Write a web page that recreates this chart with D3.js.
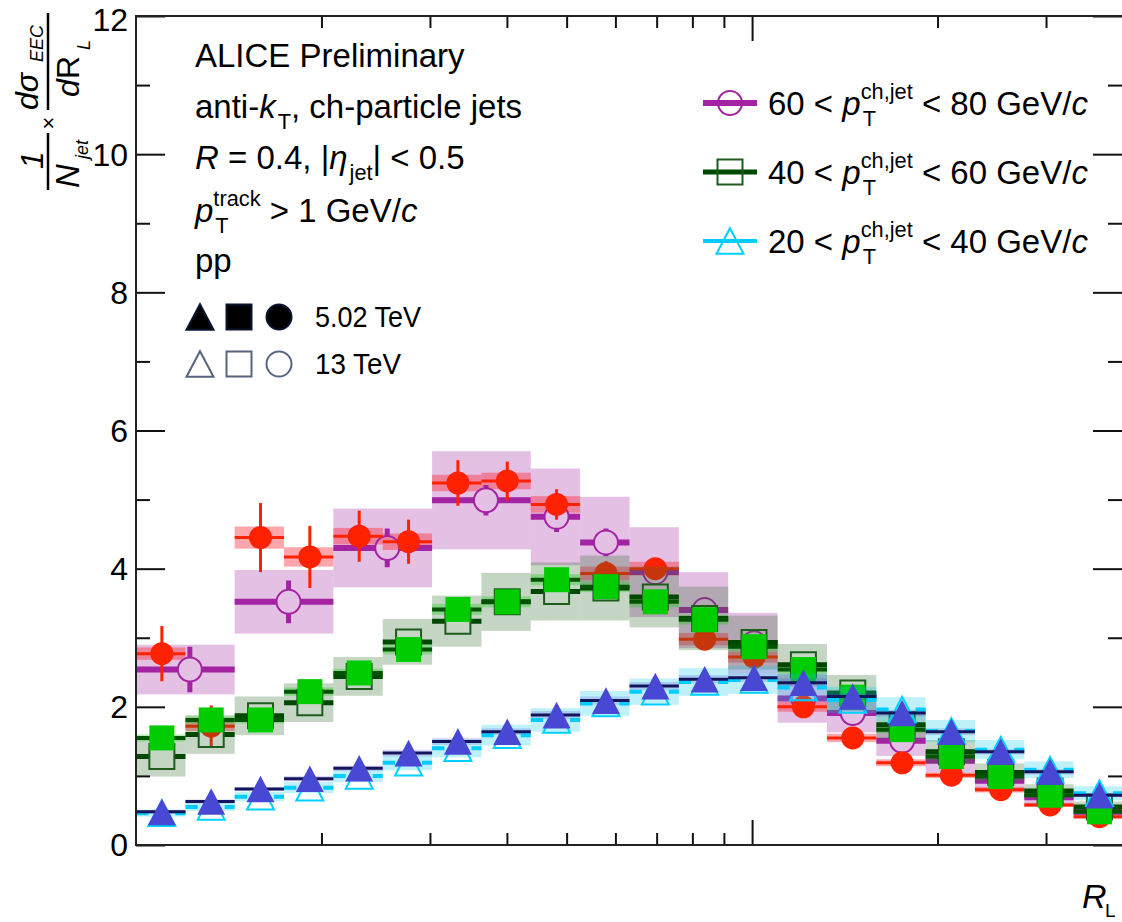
<!DOCTYPE html>
<html>
<head>
<meta charset="utf-8">
<script src="https://cdn.jsdelivr.net/npm/d3@7"></script>
<style>
  body { margin: 0; background: #fff; }
  svg { display: block; font-family: "Liberation Sans", Arial, Helvetica, sans-serif; }
  text { white-space: pre; fill: #000; }
</style>
</head>
<body>
<script>
// svg size and plot frame
const width = 1122,
  height = 922;
const frame = { left: 136, right: 1123, top: 16, bottom: 845 };

// R_L bin edges (log bins 0.01 - 0.4)
const binEdges = [0.01, 0.01203, 0.01446, 0.01739, 0.02091, 0.02515, 0.03024, 0.03637,
  0.04373, 0.05259, 0.06325, 0.07606, 0.09146, 0.11, 0.1323, 0.1591, 0.1913, 0.23,
  0.2766, 0.3326, 0.4];
// 13 TeV 60-80 uses merged bins at small R_L
const binEdgesWide = [0.01, 0.01446, 0.02091, 0.03024, 0.04373, 0.05259, 0.06325,
  0.07606, 0.09146, 0.11, 0.1323, 0.1591, 0.1913, 0.23, 0.2766, 0.3326, 0.4];

// 60 < pT < 80, 13 TeV (open circles)
const pt60_13 = [2.54, 3.52, 4.3, 4.99, 4.75, 4.38, 3.95, 3.4, 2.92, 2.12, 1.91, 1.51, 1.22, 0.93, 0.69, 0.48];
const pt60_13_stat = [0.33, 0.31, 0.28, 0.22, 0.22, 0.2, 0.17, 0.15, 0.12, 0.1, 0.09, 0.08, 0.07, 0.06, 0.05, 0.04];
const pt60_13_sys = [0.36, 0.46, 0.57, 0.71, 0.7, 0.66, 0.65, 0.55, 0.44, 0.35, 0.28, 0.22, 0.17, 0.13, 0.1, 0.07];
// 60 < pT < 80, 5.02 TeV (full circles)
const pt60_5 = [2.77, 1.72, 4.45, 4.17, 4.47, 4.39, 5.24, 5.27, 4.93, 3.93, 4.0, 2.98, 2.72, 2.0, 1.55, 1.19, 1.01, 0.8, 0.58, 0.41];
const pt60_5_stat = [0.4, 0.3, 0.5, 0.45, 0.37, 0.32, 0.33, 0.28, 0.22, 0.18, 0.15, 0.12, 0.1, 0.08, 0.07, 0.06, 0.05, 0.04, 0.04, 0.03];
const pt60_5_sys = [0.09, 0.07, 0.16, 0.14, 0.12, 0.12, 0.12, 0.12, 0.12, 0.1, 0.1, 0.09, 0.08, 0.07, 0.06, 0.05, 0.04, 0.04, 0.03, 0.03];

// 40 < pT < 60, 13 TeV (open squares)
const pt40_13 = [1.28, 1.6, 1.87, 2.06, 2.44, 2.94, 3.24, 3.52, 3.67, 3.72, 3.59, 3.28, 2.93, 2.61, 2.2, 1.74, 1.35, 1.05, 0.78, 0.55];
const pt40_13_sys = [0.29, 0.28, 0.28, 0.28, 0.28, 0.33, 0.37, 0.42, 0.42, 0.47, 0.44, 0.46, 0.39, 0.3, 0.26, 0.2, 0.17, 0.13, 0.1, 0.08];
// 40 < pT < 60, 5.02 TeV (full squares)
const pt40_5 = [1.55, 1.81, 1.81, 2.22, 2.49, 2.83, 3.41, 3.52, 3.84, 3.74, 3.52, 3.26, 2.87, 2.54, 2.14, 1.67, 1.28, 0.99, 0.72, 0.48];
const pt40_5_sys = [0.05, 0.05, 0.05, 0.06, 0.06, 0.07, 0.08, 0.08, 0.08, 0.08, 0.08, 0.07, 0.07, 0.06, 0.05, 0.05, 0.04, 0.04, 0.03, 0.03];

// 20 < pT < 40, 13 TeV (open triangles)
const pt20_13 = [0.46, 0.55, 0.7, 0.83, 1.0, 1.19, 1.4, 1.59, 1.81, 2.05, 2.22, 2.36, 2.39, 2.28, 2.1, 1.96, 1.65, 1.38, 1.09, 0.75];
const pt20_13_sys = [0.05, 0.06, 0.07, 0.08, 0.09, 0.11, 0.13, 0.15, 0.17, 0.18, 0.19, 0.2, 0.2, 0.2, 0.19, 0.18, 0.16, 0.14, 0.12, 0.1];
// 20 < pT < 40, 5.02 TeV (full triangles)
const pt20_5 = [0.48, 0.63, 0.81, 0.96, 1.11, 1.33, 1.5, 1.64, 1.88, 2.09, 2.3, 2.4, 2.42, 2.35, 2.15, 1.91, 1.64, 1.35, 1.06, 0.72];
const pt20_5_sys = [0.03, 0.03, 0.03, 0.04, 0.04, 0.05, 0.05, 0.05, 0.06, 0.06, 0.06, 0.06, 0.06, 0.06, 0.05, 0.05, 0.05, 0.04, 0.04, 0.03];

// ticks
const yMajorTicks = [0, 2, 4, 6, 8, 10, 12];
const yMinorTicks = [1, 3, 5, 7, 9, 11];
const xMajorTicks = [0.1];
const xMinorTicks = [0.02, 0.03, 0.04, 0.05, 0.06, 0.07, 0.08, 0.09, 0.2, 0.3];

// legend labels
const legendRows = [
  { lo: "60", hi: "80", key: "pt60" },
  { lo: "40", hi: "60", key: "pt40" },
  { lo: "20", hi: "40", key: "pt20" },
];

// scales
const xScale = d3.scaleLog().domain([0.01, 0.4]).range([frame.left, frame.right]);
const yScale = d3.scaleLinear().domain([0, 12]).range([frame.bottom, frame.top]);

const svg = d3.select("body").append("svg")
  .attr("width", width)
  .attr("height", height)
  .attr("viewBox", [0, 0, width, height]);

// build bins
function makeBins(edges, vals, stat, sys) {
  return vals.map((v, i) => ({
    lo: edges[i],
    hi: edges[i + 1],
    c: (edges[i] + edges[i + 1]) / 2,
    v: v,
    st: stat ? stat[i] : 0,
    sy: sys[i],
  }));
}

// marker path generators
function markerPath(type, size) {
  if (type === "tri") {
    const s = size, h = size * 0.95;
    return `M0,${-h / 2}L${s / 2},${h / 2}L${-s / 2},${h / 2}Z`;
  }
  if (type === "sq") return d3.symbol(d3.symbolSquare, size * size)();
  return d3.symbol(d3.symbolCircle, Math.PI * (size / 2) * (size / 2))();
}

const styles = {
  pt60_13: { marker: "circ", size: 24, fill: "none", stroke: "#a323a3", sw: 2,
    bar: "#a323a3", barW: 6, errW: 5, box: "#b040b0", boxOp: 0.33 },
  pt60_5: { marker: "circ", size: 23, fill: "#ff2200", stroke: "none", sw: 0,
    bar: "#ff2200", barW: 3, errW: 3, box: "#ff2030", boxOp: 0.4 },
  pt40_13: { marker: "sq", size: 25, fill: "none", stroke: "#1d5c1d", sw: 2,
    bar: "#004800", barW: 5, errW: 3, box: "#2f6a2f", boxOp: 0.28 },
  pt40_5: { marker: "sq", size: 25, fill: "#00cc00", stroke: "none", sw: 0,
    bar: "#005400", barW: 4, errW: 3, box: "#00cc00", boxOp: 0.3 },
  pt20_13: { marker: "tri", size: 27, fill: "none", stroke: "#00d0ff", sw: 2,
    bar: "#00ccff", barW: 4, errW: 3, box: "#00c8f0", boxOp: 0.25 },
  pt20_5: { marker: "tri", size: 28, fill: "#4848d4", stroke: "none", sw: 0,
    bar: "#14145a", barW: 3, errW: 3, box: "#4040d0", boxOp: 0.2 },
};

// draw order: by jet pT bin, 13 TeV then 5.02 TeV
const groups = [
  [["pt60_13", makeBins(binEdgesWide, pt60_13, pt60_13_stat, pt60_13_sys)],
   ["pt60_5", makeBins(binEdges, pt60_5, pt60_5_stat, pt60_5_sys)]],
  [["pt40_13", makeBins(binEdges, pt40_13, null, pt40_13_sys)],
   ["pt40_5", makeBins(binEdges, pt40_5, null, pt40_5_sys)]],
  [["pt20_13", makeBins(binEdges, pt20_13, null, pt20_13_sys)],
   ["pt20_5", makeBins(binEdges, pt20_5, null, pt20_5_sys)]],
];

const plotG = svg.append("g");

groups.forEach((grp) => {
  // systematic boxes first
  grp.forEach(([key, data]) => {
    const st = styles[key];
    plotG.append("g").selectAll("rect").data(data).enter().append("rect")
      .attr("x", (d) => xScale(d.lo))
      .attr("width", (d) => xScale(d.hi) - xScale(d.lo))
      .attr("y", (d) => yScale(d.v + d.sy))
      .attr("height", (d) => yScale(d.v - d.sy) - yScale(d.v + d.sy))
      .attr("fill", st.box)
      .attr("fill-opacity", st.boxOp);
  });
  // bars, stat errors and markers
  grp.forEach(([key, data]) => {
    const st = styles[key];
    const g = plotG.append("g");
    // open markers: lines stop at the marker edge
    const gap = st.fill === "none" ? st.size / 2 : 0;
    g.selectAll("path.bar").data(data).enter().append("path")
      .attr("class", "bar")
      .attr("d", (d) => {
        const cx = xScale(d.c), cy = yScale(d.v);
        const a = xScale(d.lo), b = xScale(d.hi);
        if (!gap) return `M${a},${cy}H${b}`;
        return `M${a},${cy}H${Math.max(a, cx - gap)}M${Math.min(b, cx + gap)},${cy}H${b}`;
      })
      .attr("stroke", st.bar)
      .attr("stroke-width", st.barW)
      .attr("fill", "none");
    g.selectAll("path.err").data(data.filter((d) => d.st > 0)).enter().append("path")
      .attr("class", "err")
      .attr("d", (d) => {
        const cx = xScale(d.c), cy = yScale(d.v);
        const top = yScale(d.v + d.st), bot = yScale(d.v - d.st);
        if (!gap) return `M${cx},${top}V${bot}`;
        let p = "";
        if (top < cy - gap) p += `M${cx},${top}V${cy - gap}`;
        if (bot > cy + gap) p += `M${cx},${cy + gap}V${bot}`;
        return p || "M0,0";
      })
      .attr("stroke", st.bar)
      .attr("stroke-width", st.errW)
      .attr("fill", "none");
    g.selectAll("path.mk").data(data).enter().append("path")
      .attr("class", "mk")
      .attr("transform", (d) => `translate(${xScale(d.c)},${yScale(d.v)})`)
      .attr("d", markerPath(st.marker, st.size))
      .attr("fill", st.fill)
      .attr("stroke", st.stroke)
      .attr("stroke-width", st.sw);
  });
});

// axes
const axG = svg.append("g").attr("stroke-width", 2);
function styleAxis(sel) {
  sel.select(".domain").remove();
  sel.selectAll(".tick line").attr("stroke", "#111").attr("stroke-width", 2);
}
axG.append("g").attr("transform", `translate(${frame.left},0)`)
  .call(d3.axisLeft(yScale).tickValues(yMajorTicks).tickSize(-29).tickPadding(8).tickFormat(d3.format("d")))
  .call(styleAxis)
  .call((g) => g.selectAll("text")
    .attr("fill", "#000")
    .attr("dy", (d) => (d === 12 ? "0.45em" : "0.34em"))
    .style("font-size", "32px")
    .style("font-family", "Liberation Sans, Arial, sans-serif"));
axG.append("g").attr("transform", `translate(${frame.left},0)`)
  .call(d3.axisLeft(yScale).tickValues(yMinorTicks).tickSize(-14).tickFormat(""))
  .call(styleAxis);
axG.append("g").attr("transform", `translate(${width},0)`)
  .call(d3.axisRight(yScale).tickValues(yMajorTicks).tickSize(-29).tickFormat(""))
  .call(styleAxis);
axG.append("g").attr("transform", `translate(${width},0)`)
  .call(d3.axisRight(yScale).tickValues(yMinorTicks).tickSize(-14).tickFormat(""))
  .call(styleAxis);
axG.append("g").attr("transform", `translate(0,${frame.bottom})`)
  .call(d3.axisBottom(xScale).tickValues(xMajorTicks).tickSize(-25).tickFormat(""))
  .call(styleAxis);
axG.append("g").attr("transform", `translate(0,${frame.bottom})`)
  .call(d3.axisBottom(xScale).tickValues(xMinorTicks).tickSize(-12).tickFormat(""))
  .call(styleAxis);
axG.append("g").attr("transform", `translate(0,${frame.top})`)
  .call(d3.axisTop(xScale).tickValues(xMajorTicks).tickSize(-25).tickFormat(""))
  .call(styleAxis);
axG.append("g").attr("transform", `translate(0,${frame.top})`)
  .call(d3.axisTop(xScale).tickValues(xMinorTicks).tickSize(-12).tickFormat(""))
  .call(styleAxis);

// frame
svg.append("rect")
  .attr("x", frame.left)
  .attr("y", frame.top)
  .attr("width", frame.right - frame.left)
  .attr("height", frame.bottom - frame.top)
  .attr("fill", "none")
  .attr("stroke", "#222")
  .attr("stroke-width", 2);

// rich text helper: runs of {t, i, sup, sub}
function richText(parent, x, y, runs, size) {
  const g = parent.append("g");
  let cx = x;
  runs.forEach((r) => {
    if (r.sup !== undefined || r.sub !== undefined) {
      let w = 0;
      const small = size * 0.66;
      if (r.sup) {
        const t = g.append("text").attr("x", cx).attr("y", y - size * 0.5)
          .style("font-size", small + "px").text(r.sup);
        w = Math.max(w, t.node().getComputedTextLength());
      }
      if (r.sub) {
        const t = g.append("text").attr("x", cx + 2).attr("y", y + size * 0.32)
          .style("font-size", small + "px").text(r.sub);
        w = Math.max(w, t.node().getComputedTextLength() + 2);
      }
      cx += w;
    } else {
      const t = g.append("text").attr("x", cx).attr("y", y)
        .style("font-size", size + "px")
        .style("font-style", r.i ? "italic" : "normal")
        .text(r.t);
      cx += t.node().getComputedTextLength();
    }
  });
  return g;
}

// top-left text block
const info = svg.append("g");
richText(info, 195, 67, [{ t: "ALICE Preliminary" }], 33);
richText(info, 195, 118, [{ t: "anti-" }, { t: "k", i: true }, { sub: "T" }, { t: ", ch-particle jets" }], 33);
richText(info, 195, 169, [{ t: "R", i: true }, { t: " = 0.4, |" }, { t: "η", i: true }, { sub: "jet" }, { t: "| < 0.5" }], 33);
richText(info, 195, 222, [{ t: "p", i: true }, { sup: "track", sub: "T" }, { t: " > 1 GeV/" }, { t: "c", i: true }], 33);
richText(info, 195, 272, [{ t: "pp" }], 33);

// energy legend (marker shapes)
const eLeg = svg.append("g");
const eRows = [
  { label: "5.02 TeV", y: 317, fill: "#000", stroke: "#0a1530" },
  { label: "13 TeV", y: 364, fill: "none", stroke: "#56647f" },
];
eRows.forEach((r) => {
  [["tri", 200, 27], ["sq", 239, 25], ["circ", 279, 25]].forEach(([m, xx, sz]) => {
    eLeg.append("path")
      .attr("transform", `translate(${xx},${r.y})`)
      .attr("d", markerPath(m, sz))
      .attr("fill", r.fill)
      .attr("stroke", r.stroke)
      .attr("stroke-width", 2);
  });
  eLeg.append("text")
    .attr("x", 315)
    .attr("y", r.y + 10)
    .style("font-size", "30px")
    .attr("textLength", r.label === "13 TeV" ? 86 : 106)
    .attr("lengthAdjust", "spacingAndGlyphs")
    .text(r.label);
});

// pT legend (right)
const pLeg = svg.append("g");
legendRows.forEach((row, i) => {
  const yy = 103 + i * 69;
  const st = styles[row.key + "_13"];
  pLeg.append("line")
    .attr("x1", 703).attr("x2", 757)
    .attr("y1", yy).attr("y2", yy)
    .attr("stroke", st.bar)
    .attr("stroke-width", st.barW);
  pLeg.append("path")
    .attr("transform", `translate(730,${yy})`)
    .attr("d", markerPath(st.marker, st.size))
    .attr("fill", "none")
    .attr("stroke", st.stroke)
    .attr("stroke-width", 2);
  richText(pLeg, 768, yy + 12, [
    { t: row.lo + " < " }, { t: "p", i: true }, { sup: "ch,jet", sub: "T" },
    { t: " < " + row.hi + " GeV/" }, { t: "c", i: true },
  ], 33);
});

// x-axis title
svg.append("text").attr("x", 1082).attr("y", 908)
  .style("font-size", "34px").style("font-style", "italic").text("R");
svg.append("text").attr("x", 1105).attr("y", 917)
  .style("font-size", "19px").text("L");

// y-axis title, rotated fraction
const yl = svg.append("g").attr("transform", "translate(48,190) rotate(-90)");
yl.append("text").attr("x", 30).attr("y", -5).attr("text-anchor", "middle")
  .style("font-size", "32px").style("font-style", "italic").text("1");
yl.append("line").attr("x1", 0).attr("x2", 57).attr("y1", 0).attr("y2", 0)
  .attr("stroke", "#000").attr("stroke-width", 2.5);
yl.append("text").attr("x", 2).attr("y", 31)
  .style("font-size", "33px").style("font-style", "italic").text("N");
yl.append("text").attr("x", 31).attr("y", 40)
  .style("font-size", "18px").style("font-style", "italic").text("jet");
yl.append("text").attr("x", 67).attr("y", 8).attr("text-anchor", "middle")
  .style("font-size", "22px").text("×");
yl.append("text").attr("x", 80).attr("y", -10)
  .style("font-size", "32px").style("font-style", "italic").text("dσ");
yl.append("text").attr("x", 128).attr("y", -5)
  .style("font-size", "18px").style("font-style", "italic").text("EEC");
yl.append("line").attr("x1", 80).attr("x2", 177).attr("y1", 0).attr("y2", 0)
  .attr("stroke", "#000").attr("stroke-width", 2.5);
yl.append("text").attr("x", 93).attr("y", 31)
  .style("font-size", "32px").style("font-style", "italic").text("d");
yl.append("text").attr("x", 111).attr("y", 31)
  .style("font-size", "32px").text("R");
yl.append("text").attr("x", 140).attr("y", 42)
  .style("font-size", "18px").style("font-style", "italic").text("L");
</script>
</body>
</html>
